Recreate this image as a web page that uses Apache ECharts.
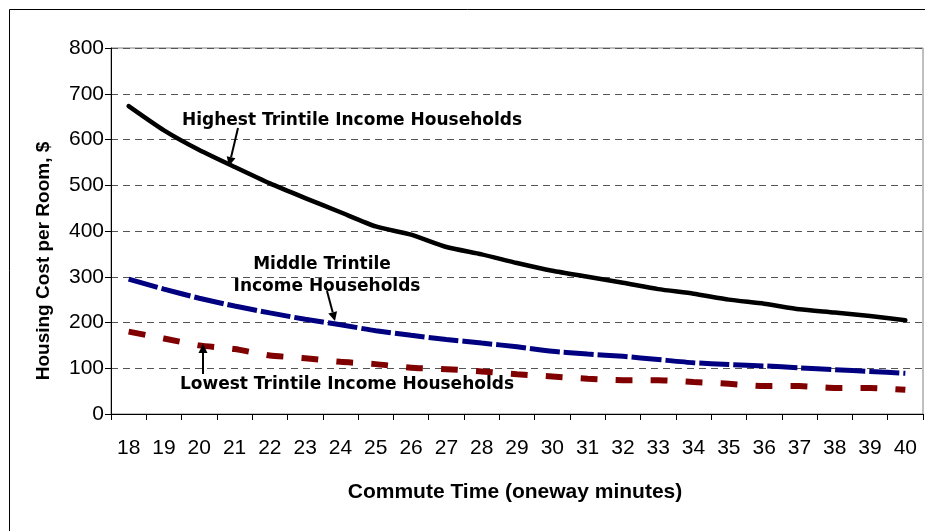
<!DOCTYPE html>
<html>
<head>
<meta charset="utf-8">
<script src="https://cdn.jsdelivr.net/npm/echarts@6/dist/echarts.min.js"></script>
<style>
  html, body { margin: 0; padding: 0; background: #fff; }
  #chart { width: 925px; height: 531px; }
</style>
</head>
<body>
<div id="chart"></div>
<script>
// Commute time categories (one-way minutes)
const commuteMinutes = ['18','19','20','21','22','23','24','25','26','27','28','29','30','31','32','33','34','35','36','37','38','39','40'];

// Housing cost per room ($) by income trintile
const highestTrintile = [673, 620, 577, 540, 504, 472, 441, 410, 392, 365, 349, 330, 313, 300, 287, 273, 263, 250, 241, 229, 222, 214, 205];
const middleTrintile  = [295, 273, 253, 236, 221, 207, 195, 182, 172, 163, 155, 147, 137, 131, 126, 119, 112, 108, 105, 101, 97, 93, 89];
const lowestTrintile  = [180, 165, 150, 142, 128, 122, 114, 109, 101, 98, 93, 87, 82, 77, 74, 74, 70, 66, 61, 61, 57, 57, 53];

// Value axis ticks
const yTicks = [0, 100, 200, 300, 400, 500, 600, 700, 800];

const axisFont = 'Liberation Sans, Arial, sans-serif';
const noteFont = 'DejaVu Sans, sans-serif';

const chart = echarts.init(document.getElementById('chart'), null, { renderer: 'canvas' });

function arrow(x1, y1, x2, y2) {
  const ang = Math.atan2(y2 - y1, x2 - x1);
  const len = 9, half = 4.5;
  const bx = x2 - len * Math.cos(ang), by = y2 - len * Math.sin(ang);
  const px = -Math.sin(ang) * half, py = Math.cos(ang) * half;
  return [
    { type: 'line', shape: { x1: x1, y1: y1, x2: bx, y2: by }, style: { stroke: '#000', lineWidth: 2 }, z: 20 },
    { type: 'polygon', shape: { points: [[x2, y2], [bx + px, by + py], [bx - px, by - py]] }, style: { fill: '#000' }, z: 20 }
  ];
}

function note(text, x, y) {
  return {
    type: 'text', x: x, y: y, z: 20,
    style: { text: text, font: 'bold 17px ' + noteFont, fill: '#000', textAlign: 'center', textVerticalAlign: 'middle' }
  };
}

const option = {
  animation: false,
  backgroundColor: '#fff',
  grid: {
    left: 111, right: 2, top: 48, bottom: 117,
    show: true, borderColor: '#808080', borderWidth: 1, backgroundColor: 'transparent'
  },
  xAxis: {
    type: 'category',
    data: commuteMinutes,
    boundaryGap: true,
    axisLine: { lineStyle: { color: '#000', width: 1 } },
    axisTick: { show: true, length: 6, lineStyle: { color: '#000' } },
    axisLabel: { color: '#000', fontFamily: axisFont, fontSize: 21, margin: 24 },
    splitLine: { show: false }
  },
  yAxis: {
    type: 'value',
    min: yTicks[0], max: yTicks[yTicks.length - 1], interval: 100,
    axisLine: { show: true, lineStyle: { color: '#000', width: 1 } },
    axisTick: { show: true, length: 6, lineStyle: { color: '#000' } },
    axisLabel: { color: '#000', fontFamily: axisFont, fontSize: 21, margin: 7 },
    splitLine: { show: true, lineStyle: { color: '#555', width: 1, type: [7, 5] } }
  },
  series: [
    {
      name: 'Highest Trintile Income Households',
      type: 'line', data: highestTrintile, showSymbol: false, smooth: 0.2,
      lineStyle: { color: '#000', width: 4.5, cap: 'round', join: 'round' }, z: 5
    },
    {
      name: 'Middle Trintile Income Households',
      type: 'line', data: middleTrintile, showSymbol: false, smooth: 0.2,
      lineStyle: { color: '#000080', width: 5, type: [30, 4] }, z: 4
    },
    {
      name: 'Lowest Trintile Income Households',
      type: 'line', data: lowestTrintile, showSymbol: false, smooth: 0.2,
      lineStyle: { color: '#800000', width: 6, type: [17, 18] }, z: 3
    }
  ],
  graphic: [
    // outer frame
    { type: 'rect', shape: { x: 9.5, y: 9.5, width: 930, height: 540 }, style: { fill: 'none', stroke: '#000', lineWidth: 1 }, z: 1 },
    // short stub of the category axis left of the value axis
    { type: 'line', shape: { x1: 105, y1: 414.5, x2: 111, y2: 414.5 }, style: { stroke: '#000', lineWidth: 1 }, z: 10 },
    // axis titles
    {
      type: 'text', x: 515, y: 492, z: 20,
      style: { text: 'Commute Time (oneway minutes)', font: 'bold 21px ' + axisFont, fill: '#000', textAlign: 'center', textVerticalAlign: 'middle' }
    },
    {
      type: 'text', x: 44, y: 261, rotation: Math.PI / 2, z: 20,
      style: { text: 'Housing Cost per Room, $', font: 'bold 19px ' + axisFont, fill: '#000', textAlign: 'center', textVerticalAlign: 'middle' }
    },
    // series annotations
    note('Highest Trintile Income Households', 352, 121),
    ...arrow(238, 128, 229, 166),
    note('Middle Trintile', 322, 265),
    note('Income Households', 327, 287),
    ...arrow(327, 291, 335, 321),
    note('Lowest Trintile Income Households', 347, 385),
    ...arrow(203, 374, 203, 344)
  ]
};

chart.setOption(option);
</script>
</body>
</html>
